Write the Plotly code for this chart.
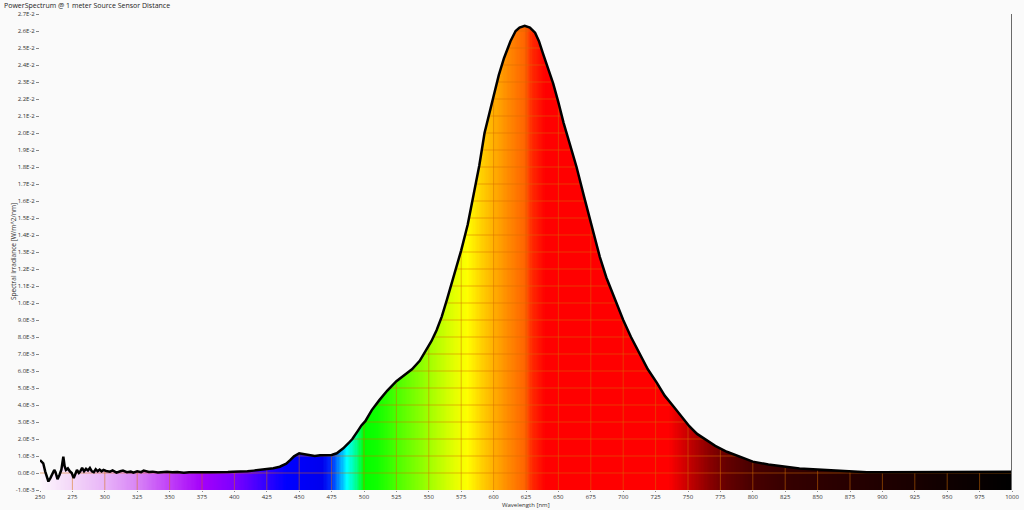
import plotly.graph_objects as go
import numpy as np

# ---------------- data ----------------
wavelength_nm = [
    250, 251, 252.5, 254, 255.5, 256.5, 258, 259.5, 261, 262, 263.5, 265, 266.5, 268, 269, 270,
    271.5, 273, 274.5, 276, 277.5, 278.5, 280, 281, 282.5, 284, 285.5, 287, 288.5, 290, 291.5,
    293, 294.5, 296, 297.5, 299, 301, 304, 306, 309, 312, 314, 317, 320, 322, 325, 328, 330,
    334, 337, 341, 345, 348, 352, 356, 361, 365, 370, 374, 378, 382, 386, 390, 395, 399, 404,
    410, 415, 420, 425, 430, 435, 440, 443, 446, 450, 453, 456, 459, 462, 466, 470, 475, 479,
    484, 488, 491, 495, 498, 501, 506, 512, 518, 525, 531, 537, 543, 548, 552, 556, 560, 564,
    567, 570, 575, 580, 584, 589, 593, 597, 600, 604, 608, 613, 617, 620, 624, 628, 632, 635,
    638, 642, 646, 650, 654, 659, 664, 670, 674, 677, 682, 687, 693, 700, 706, 713, 719, 726,
    732, 739, 745, 751, 757, 764, 771, 780, 790, 800, 812, 826, 836, 850, 862, 875, 888, 900,
    913, 925, 939, 950, 965, 975, 985, 993, 1000,
]
irradiance_milli = [
    0.76, 0.70, 0.57, 0.10, -0.20, -0.50, -0.30, 0.00, 0.18, 0.05, -0.37, -0.12, 0.20, 0.96, 0.40, 0.18,
    0.27, 0.10, 0.00, -0.30, -0.05, 0.18, 0.00, 0.08, 0.30, 0.10, 0.25, 0.15, 0.30, 0.10, 0.05,
    0.22, 0.10, 0.20, 0.10, 0.18, 0.12, 0.08, 0.15, 0.02, 0.10, 0.14, 0.05, 0.08, 0.02, 0.10, 0.05, 0.14,
    0.06, 0.08, 0.03, 0.06, 0.08, 0.04, 0.06, 0.02, 0.05, 0.04, 0.02, 0.04, 0.05, 0.04, 0.05, 0.06, 0.08, 0.08,
    0.10, 0.14, 0.18, 0.22, 0.28, 0.37, 0.55, 0.76, 0.98, 1.16, 1.12, 1.05, 1.00, 1.00, 1.04, 1.06, 1.06, 1.16,
    1.45, 1.75, 2.00, 2.45, 2.80, 3.05, 3.70, 4.30, 4.85, 5.40, 5.75, 6.10, 6.60, 7.20, 7.75, 8.40, 9.20, 10.2,
    11.0, 11.9, 13.1, 14.6, 16.1, 18.1, 20.0, 21.3, 22.1, 23.4, 24.4, 25.4, 26.0, 26.2, 26.3, 26.2, 25.9, 25.4,
    24.7, 23.8, 22.9, 21.8, 20.6, 19.3, 18.0, 16.2, 15.0, 14.1, 12.7, 11.5, 10.3, 9.0, 8.0, 7.0, 6.1, 5.3,
    4.55, 3.9, 3.3, 2.75, 2.3, 1.94, 1.6, 1.25, 0.95, 0.67, 0.50, 0.37, 0.27, 0.20, 0.14, 0.10, 0.05, 0.04,
    0.04, 0.06, 0.06, 0.04, 0.05, 0.07, 0.05, 0.08, 0.07,
]
irradiance = [v * 1e-3 for v in irradiance_milli]

x_tick_values = list(range(250, 1001, 25))
x_tick_labels = [str(v) for v in x_tick_values]
y_tick_values = [i * 1e-3 for i in range(-1, 28)]
y_tick_labels = [
    "-1.0E-3", "0.0E-0", "1.0E-3", "2.0E-3", "3.0E-3", "4.0E-3", "5.0E-3", "6.0E-3", "7.0E-3",
    "8.0E-3", "9.0E-3", "1.0E-2", "1.1E-2", "1.2E-2", "1.3E-2", "1.4E-2", "1.5E-2", "1.6E-2",
    "1.7E-2", "1.8E-2", "1.9E-2", "2.0E-2", "2.1E-2", "2.2E-2", "2.3E-2", "2.4E-2", "2.5E-2",
    "2.6E-2", "2.7E-2",
]

# ---------------- style ----------------
BG = "#fafafa"
X_MIN, X_MAX = 250, 1000
Y_MIN, Y_MAX = -1e-3, 2.7e-2
spectrum_stops = [
    (250, "#fdf6fd"), (275, "#f3d6f8"), (300, "#e8b4f8"), (325, "#d884f6"), (350, "#c040f8"),
    (375, "#a400fa"), (400, "#7c00ff"), (412, "#5800ff"), (425, "#3000ff"), (440, "#0000ff"),
    (468, "#0000ee"), (476, "#0038ff"), (481, "#0098ff"), (487, "#00ffff"), (494, "#00ff90"),
    (500, "#00ff00"), (510, "#10ff00"), (525, "#48ff00"), (550, "#a0ff00"), (570, "#e4ff00"),
    (580, "#ffff00"), (590, "#ffd400"), (600, "#ffb000"), (612, "#ff8800"), (624, "#ff6400"),
    (630, "#ff2800"), (640, "#ff0000"), (735, "#ff0000"), (750, "#c80000"), (765, "#900000"),
    (780, "#650000"), (800, "#480000"), (830, "#340000"), (870, "#280000"), (920, "#1a0000"),
    (960, "#0c0000"), (1000, "#000000"),
]
colorscale = [[(w - X_MIN) / (X_MAX - X_MIN), c] for w, c in spectrum_stops]
grid_color = "rgba(215,110,0,0.5)"
font_family = "Open Sans, Noto Sans, sans-serif"
text_color = "#333333"

fig = go.Figure()

# spectrum gradient background
grad_x = np.arange(X_MIN, X_MAX + 1, 1)
fig.add_trace(go.Heatmap(
    x=grad_x, y=[Y_MIN, Y_MAX], z=[grad_x, grad_x],
    colorscale=colorscale, zmin=X_MIN, zmax=X_MAX, showscale=False, hoverinfo="skip",
))

# gridlines drawn over the gradient (only visible beneath the curve)
gx, gy = [], []
for xv in x_tick_values[1:-1]:
    gx += [xv, xv, None]
    gy += [Y_MIN, Y_MAX, None]
for yv in y_tick_values[1:-1]:
    gx += [X_MIN, X_MAX, None]
    gy += [yv, yv, None]
fig.add_trace(go.Scatter(x=gx, y=gy, mode="lines", line=dict(color=grid_color, width=1),
                         hoverinfo="skip", showlegend=False))

# mask above the curve
mask_x = list(wavelength_nm) + [X_MAX, X_MIN]
mask_y = list(irradiance) + [Y_MAX * 1.05, Y_MAX * 1.05]
fig.add_trace(go.Scatter(x=mask_x, y=mask_y, fill="toself", fillcolor=BG, mode="lines",
                         line=dict(width=0, color=BG), hoverinfo="skip", showlegend=False))

# curve
fig.add_trace(go.Scatter(x=wavelength_nm, y=irradiance, mode="lines",
                         line=dict(color="#000000", width=2.5), showlegend=False,
                         name="Spectral Irradiance"))

fig.add_shape(type="line", x0=X_MAX, x1=X_MAX, y0=Y_MIN, y1=Y_MAX, xref="x", yref="y",
              line=dict(color="#6a6a6a", width=2), layer="above")

fig.update_layout(
    width=1024, height=510,
    margin=dict(l=40, r=12, t=14, b=20, autoexpand=False),
    paper_bgcolor=BG, plot_bgcolor=BG,
    font=dict(family=font_family, size=6, color=text_color),
    showlegend=False,
    annotations=[
        dict(text="PowerSpectrum @ 1 meter Source Sensor Distance", xref="paper", yref="paper",
             x=-38 / 972, y=1 + 9 / 476, xanchor="left", yanchor="middle", showarrow=False,
             font=dict(size=7, color="#222222")),
        dict(text="Wavelength [nm]", xref="paper", yref="paper", x=0.5, y=-21 / 476,
             xanchor="center", yanchor="bottom", showarrow=False, font=dict(size=6, color=text_color)),
        dict(text="Spectral Irradiance [W/m^2/nm]", xref="paper", yref="paper", x=-27 / 972, y=0.5,
             xanchor="center", yanchor="middle", textangle=-90, showarrow=False,
             font=dict(size=6.5, color=text_color)),
    ],
)
fig.update_xaxes(range=[X_MIN, X_MAX], tickvals=x_tick_values, ticktext=x_tick_labels,
                 showgrid=False, zeroline=False, ticks="outside", ticklen=1, tickcolor="#888888",
                 tickfont=dict(size=6), showline=False, fixedrange=True)
fig.update_yaxes(range=[Y_MIN, Y_MAX], tickvals=y_tick_values, ticktext=y_tick_labels,
                 showgrid=False, zeroline=False, ticks="outside", ticklen=3, tickcolor="#888888",
                 tickfont=dict(size=6), showline=False, fixedrange=True)

fig.write_html("out.html", config={"displayModeBar": False},
               post_script="document.body.style.margin='0px';document.body.style.overflow='hidden';")
